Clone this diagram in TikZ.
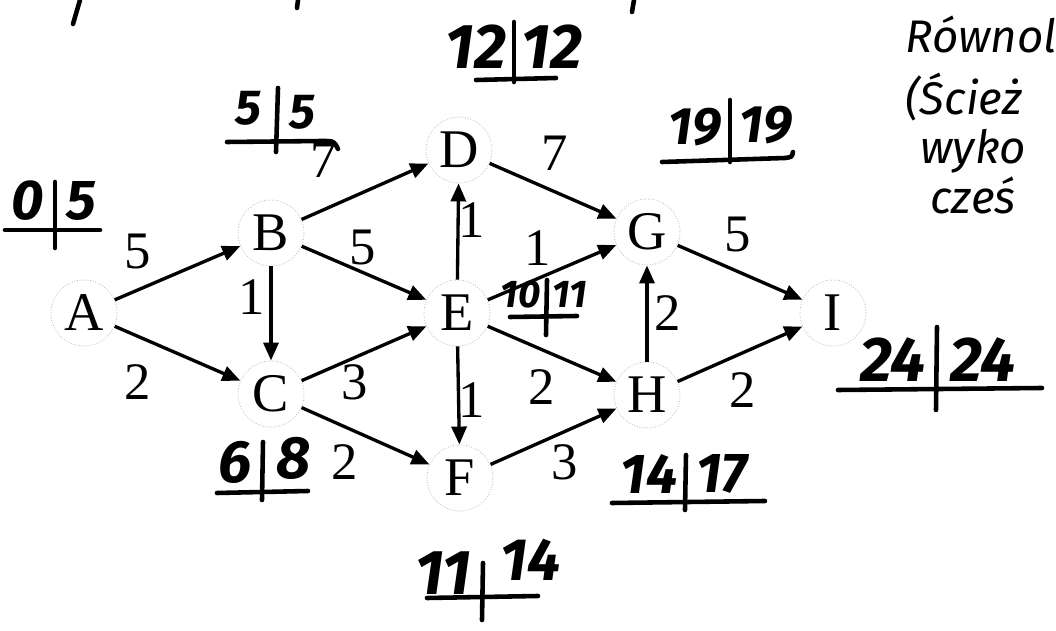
\documentclass[tikz,border=0pt]{standalone}
\usepackage{fontspec}
\setmainfont{Liberation Serif}
\newfontfamily\handfont{Fira Sans}
\usetikzlibrary{arrows.meta}

\begin{document}
\begin{tikzpicture}[
    x=0.02cm, y=-0.02cm,
    vertex/.style={circle, draw=gray!50, densely dotted, line width=0.5pt, minimum size=1.32cm, inner sep=0pt, font=\fontsize{31}{34}\selectfont},
    wgt/.style={inner sep=0pt, font=\fontsize{30}{32}\selectfont},
    arrow/.style={-{Triangle[length=0.36cm, width=0.3cm]}, line width=1.9pt},
    hand/.style={inner sep=0pt, font=\handfont\bfseries\itshape\fontsize{#1}{#1}\selectfont},
    hand/.default=32,
    pen/.style={line width=2.6pt, line cap=round},
    note/.style={anchor=base west, inner sep=0pt, font=\handfont\itshape\fontsize{26}{28}\selectfont}
]
\useasboundingbox (0,0) rectangle (1056,631);
\clip (0,0) rectangle (1056,631);

% Vertices
\node[vertex] (A) at (84,313) {A};
\node[vertex] (B) at (271,233) {B};
\node[vertex] (C) at (271,394) {C};
\node[vertex] (D) at (459,150) {D};
\node[vertex] (E) at (457,313) {E};
\node[vertex] (F) at (460,478) {F};
\node[vertex] (G) at (647,232) {G};
\node[vertex] (H) at (647,395) {H};
\node[vertex] (I) at (833,313) {I};

% Edges
\draw[arrow] (A) -- (B);
\draw[arrow] (A) -- (C);
\draw[arrow] (B) -- (C);
\draw[arrow] (B) -- (D);
\draw[arrow] (B) -- (E);
\draw[arrow] (C) -- (E);
\draw[arrow] (C) -- (F);
\draw[arrow] (E) -- (D);
\draw[arrow] (E) -- (F);
\draw[arrow] (E) -- (G);
\draw[arrow] (E) -- (H);
\draw[arrow] (D) -- (G);
\draw[arrow] (F) -- (H);
\draw[arrow] (H) -- (G);
\draw[arrow] (G) -- (I);
\draw[arrow] (H) -- (I);

% Weights
\node[wgt] (wAB) at (138,252) {5};
\node[wgt] (wAC) at (138,382) {2};
\node[wgt] (wBC) at (252,297) {1};
\node[wgt] (wBD) at (324,160) {7};
\node[wgt] (wBE) at (363,248) {5};
\node[wgt] (wCE) at (355,382) {3};
\node[wgt] (wCF) at (345,462) {2};
\node[wgt] (wED) at (472,220) {1};
\node[wgt] (wEF) at (472,400) {1};
\node[wgt] (wEG) at (538,248) {1};
\node[wgt] (wEH) at (542,387) {2};
\node[wgt] (wDG) at (555,153) {7};
\node[wgt] (wFH) at (565,462) {3};
\node[wgt] (wHG) at (668,313) {2};
\node[wgt] (wGI) at (738,235) {5};
\node[wgt] (wHI) at (743,390) {2};

% Earliest | latest times, handwritten
\node[hand, anchor=east] (eA) at (44,201) {0};
\node[hand, anchor=west] (lA) at (66,201) {5};
\draw[pen] (55,182) -- (55,248);
\draw[pen] (5,230) -- (100,230);

\node[hand=28, anchor=east] (eB) at (262,108) {5};
\node[hand=28, anchor=west] (lB) at (289,112) {5};
\draw[pen] (278,88) -- (276,152);
\draw[pen] (227,142) -- (322,141) .. controls (334,141) .. (338,149);

\node[hand=36, anchor=east] (eD) at (507,47) {12};
\node[hand=36, anchor=west] (lD) at (521,47) {12};
\draw[pen] (514,22) -- (514,82);
\draw[pen] (476,80) -- (556,78);

\node[hand=22, anchor=east] (eE) at (541,294) {10};
\node[hand=22, anchor=west] (lE) at (552,294) {11};
\draw[pen] (547,280) -- (546,335);
\draw[pen] (510,317) -- (577,316);

\node[hand=30, anchor=east] (eG) at (722,127) {19};
\node[hand=30, anchor=west] (lG) at (739,125) {19};
\draw[pen] (730,100) -- (730,162);
\draw[pen] (662,162) -- (785,158) .. controls (792,157) .. (793,152);

\node[hand=34, anchor=east] (eC) at (252,462) {6};
\node[hand=34, anchor=west] (lC) at (276,458) {8};
\draw[pen] (263,442) -- (262,500);
\draw[pen] (217,493) -- (308,491);

\node[hand=32, anchor=east] (eH) at (678,474) {14};
\node[hand=32, anchor=west] (lH) at (696,474) {17};
\draw[pen] (686,455) -- (685,510);
\draw[pen] (612,503) -- (765,501);

\node[hand=36, anchor=east] (eF) at (472,573) {11};
\node[hand=34, anchor=west] (lF) at (500,560) {14};
\draw[pen] (483,563) -- (482,620);
\draw[pen] (427,598) -- (538,596);

\node[hand=36, anchor=east] (eI) at (926,360) {24};
\node[hand=36, anchor=west] (lI) at (950,360) {24};
\draw[pen] (937,327) -- (936,410);
\draw[pen] (838,390) -- (1042,388);

% Note on the right, cut by the page edge
\node[note] (n1) at (905,53) {Równol};
\node[note] (n2) at (905,115) {(Ścież};
\node[note] (n3) at (920,164) {wyko};
\node[note] (n4) at (930,214) {cześ};

% Strokes cut by the top edge
\draw[pen] (80,0) -- (73,24);
\draw[pen] (298,0) -- (297,8);
\draw[pen] (634,0) -- (632,12);
\end{tikzpicture}
\end{document}
